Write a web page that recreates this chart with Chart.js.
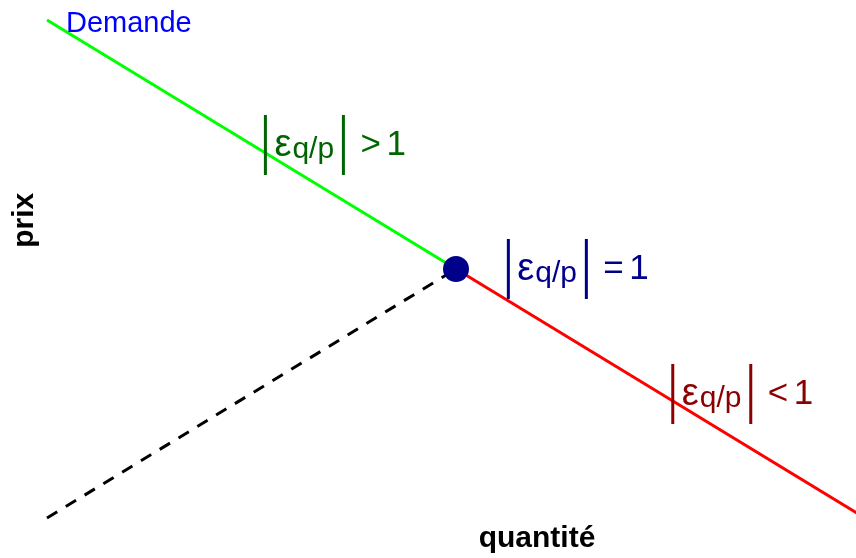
<!DOCTYPE html>
<html>
<head>
<meta charset="utf-8">
<script src="https://cdn.jsdelivr.net/npm/chart.js@4.4.1/dist/chart.umd.min.js"></script>
<style>
html,body{margin:0;padding:0;background:#fff;}
#wrap{width:856px;height:558px;position:relative;}
</style>
</head>
<body>
<div id="wrap"><canvas id="c" width="856" height="558"></canvas></div>
<script>
// Data (quantité, prix)
const elasticPart = [{x:0, y:10}, {x:5, y:5}];     // |e| > 1
const inelasticPart = [{x:5, y:5}, {x:10, y:0}];   // |e| < 1
const refLine = [{x:0, y:0}, {x:5, y:5}];          // dashed
const unitPoint = [{x:5, y:5}];                    // |e| = 1
const labels = [
  {x:2.67, y:7.49, rel:'>', color:'#006400'},
  {x:5.64, y:5.00, rel:'=', color:'#00008B'},
  {x:7.65, y:2.49, rel:'<', color:'#8B0000'}
];
const demandLabel = {x:0.232, y:9.76, text:'Demande'};
const xTitle = {x:5.99, y:-0.58, text:'quantité'};
const yTitle = {x:-0.171, y:5.98, text:'prix'};

const textPlugin = {
  id:'texts',
  afterDatasetsDraw(chart){
    const ctx = chart.ctx, xs = chart.scales.x, ys = chart.scales.y;
    ctx.save();
    // Demande
    ctx.fillStyle = '#0000FF';
    ctx.font = '29px "Liberation Sans", Arial, sans-serif';
    ctx.textBaseline = 'alphabetic';
    ctx.textAlign = 'left';
    ctx.fillText(demandLabel.text, xs.getPixelForValue(demandLabel.x), ys.getPixelForValue(demandLabel.y));
    // elasticity labels
    labels.forEach(l => {
      const x0 = xs.getPixelForValue(l.x), yc = ys.getPixelForValue(l.y);
      ctx.strokeStyle = l.color; ctx.fillStyle = l.color; ctx.lineWidth = 3;
      ctx.beginPath();
      ctx.moveTo(x0, yc-30); ctx.lineTo(x0, yc+30);
      ctx.moveTo(x0+78, yc-30); ctx.lineTo(x0+78, yc+30);
      ctx.stroke();
      ctx.textAlign = 'left';
      ctx.font = '38px "Liberation Sans", Arial, sans-serif';
      ctx.fillText('ε', x0+9, yc+11);
      ctx.font = '30px "Liberation Sans", Arial, sans-serif';
      ctx.fillText('q/p', x0+27, yc+13);
      ctx.font = '35px "Liberation Sans", Arial, sans-serif';
      ctx.fillText(l.rel, x0+95, yc+10);
      ctx.fillText('1', x0+121, yc+10);
    });
    // axis titles
    ctx.fillStyle = '#000';
    ctx.font = 'bold 30px "Liberation Sans", Arial, sans-serif';
    ctx.textAlign = 'center';
    ctx.fillText(xTitle.text, xs.getPixelForValue(xTitle.x), ys.getPixelForValue(xTitle.y));
    ctx.translate(xs.getPixelForValue(yTitle.x), ys.getPixelForValue(yTitle.y));
    ctx.rotate(-Math.PI/2);
    ctx.fillText(yTitle.text, 0, 0);
    ctx.restore();
  }
};

new Chart(document.getElementById('c'), {
  type:'scatter',
  data:{datasets:[
    {data:refLine, showLine:true, borderColor:'#000', borderWidth:3, borderDash:[12,10], pointRadius:0, clip:false, order:3},
    {data:elasticPart, showLine:true, borderColor:'#00FF00', borderWidth:3, pointRadius:0, clip:false, order:2},
    {data:inelasticPart, showLine:true, borderColor:'#FF0000', borderWidth:3, pointRadius:0, clip:false, order:2},
    {data:unitPoint, showLine:false, pointRadius:13, pointHoverRadius:13, pointBackgroundColor:'#00008B', pointBorderColor:'#00008B', pointBorderWidth:0, clip:false, order:1}
  ]},
  options:{
    responsive:false, animation:false, devicePixelRatio:1,
    layout:{padding:0},
    plugins:{legend:{display:false}, tooltip:{enabled:false}},
    scales:{
      x:{type:'linear', min:-0.4156, max:9.731, display:false},
      y:{type:'linear', min:-0.542, max:10.141, display:false}
    }
  },
  plugins:[textPlugin]
});
</script>
</body>
</html>
